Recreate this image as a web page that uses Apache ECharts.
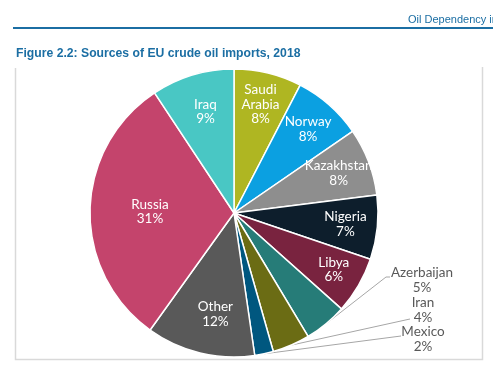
<!DOCTYPE html>
<html>
<head>
<meta charset="utf-8">
<script src="https://cdn.jsdelivr.net/npm/echarts@6/dist/echarts.min.js"></script>
<style>
html,body{margin:0;padding:0;background:#fff;}
#chart{width:493px;height:366px;}
</style>
</head>
<body>
<div id="chart"></div>
<script>
// Data (clockwise from 12 o'clock)
var countries = ['Saudi Arabia', 'Norway', 'Kazakhstan', 'Nigeria', 'Libya', 'Azerbaijan', 'Iran', 'Mexico', 'Other', 'Russia', 'Iraq'];
var shares = [7.6, 7.8, 7.6, 7.2, 6.4, 4.8, 4.2, 2.1, 12.2, 30.8, 9.3];
var colors = ['#AFB622', '#0BA0E1', '#8E8E8E', '#0D1E2C', '#79233F', '#267C78', '#6B6C14', '#00577F', '#595959', '#C4446C', '#49C7C4'];
var outsideNames = ['Azerbaijan', 'Iran', 'Mexico'];
var titleText = 'Figure 2.2: Sources of EU crude oil imports, 2018';
var headerText = 'Oil Dependency in the EU';

// ---- layout-only settings ----
var CX = 234, CY = 213, R = 144;
var innerDist = 112;
var innerDistOverride = {'Russia': 84, 'Other': 104, 'Iraq': 106};
var innerShiftX = {'Other': 6, 'Iraq': 2, 'Libya': 3};
var outsideLayout = {
  'Azerbaijan': {x: 422, y: 280, line: [[386, 277], [390, 277]]},
  'Iran': {x: 423, y: 310, line: [[410, 319]]},
  'Mexico': {x: 423, y: 339, line: [[401, 336]]}
};

var FONT = 'Lato';
function fmt(p) { return p.name.replace(' ', '\n') + '\n' + Math.round(p.value) + '%'; }

var total = shares.reduce(function (a, b) { return a + b; }, 0);
// mid-angle of each slice (clockwise from 12 o'clock), from the data
var midAngles = [];
(function () {
  var cum = 0;
  shares.forEach(function (v) {
    midAngles.push((cum + v / 2) / total * Math.PI * 2);
    cum += v;
  });
})();

var mainData = countries.map(function (n, i) {
  var out = outsideNames.indexOf(n) >= 0;
  return {
    name: n, value: shares[i],
    itemStyle: {color: colors[i]},
    label: {color: out ? '#595959' : '#ffffff'},
    labelLine: {show: out}
  };
});

var chart = echarts.init(document.getElementById('chart'), null, {renderer: 'canvas'});
chart.setOption({
  animation: false,
  graphic: [
    {type: 'rect', shape: {x: 13, y: 27, width: 490, height: 2}, style: {fill: '#1B6EA3'}, silent: true},
    {type: 'text', left: 408, top: 14, style: {text: headerText, fill: '#1B6EA3', font: '11px "Liberation Sans", Arial'}, silent: true},
    {type: 'text', left: 16, top: 48, style: {text: titleText, fill: '#1B6EA3', font: 'bold 12.2px "Liberation Sans", Arial'}, silent: true},
    {type: 'polyline', shape: {points: [[15.5, 68], [15.5, 359.5], [482.5, 359.5], [482.5, 67]]}, style: {stroke: '#D9D9D9', lineWidth: 1.5, fill: null}, silent: true}
  ],
  series: [
    {
      type: 'pie',
      center: [CX, CY],
      radius: [0, R],
      startAngle: 90,
      clockwise: true,
      silent: true,
      avoidLabelOverlap: false,
      itemStyle: {borderColor: '#ffffff', borderWidth: 1.5},
      label: {
        show: true, position: 'outside', formatter: fmt,
        fontFamily: FONT, fontSize: 13.5, lineHeight: 14.5, align: 'center', overflow: 'none'
      },
      labelLine: {lineStyle: {color: '#A6A6A6', width: 1}, length: 20, length2: 10},
      labelLayout: function (params) {
        var i = params.dataIndex;
        var name = countries[i];
        var o = outsideLayout[name];
        if (o) {
          var pts = [];
          if (params.labelLinePoints && params.labelLinePoints.length) pts.push(params.labelLinePoints[0]);
          o.line.forEach(function (p) { pts.push(p); });
          return {x: o.x, y: o.y, align: 'center', verticalAlign: 'middle', labelLinePoints: pts};
        }
        var d = innerDistOverride[name] || innerDist;
        var a = midAngles[i];
        return {
          x: CX + d * Math.sin(a) + (innerShiftX[name] || 0),
          y: CY - d * Math.cos(a),
          align: 'center', verticalAlign: 'middle'
        };
      },
      data: mainData
    }
  ]
});
</script>
</body>
</html>
